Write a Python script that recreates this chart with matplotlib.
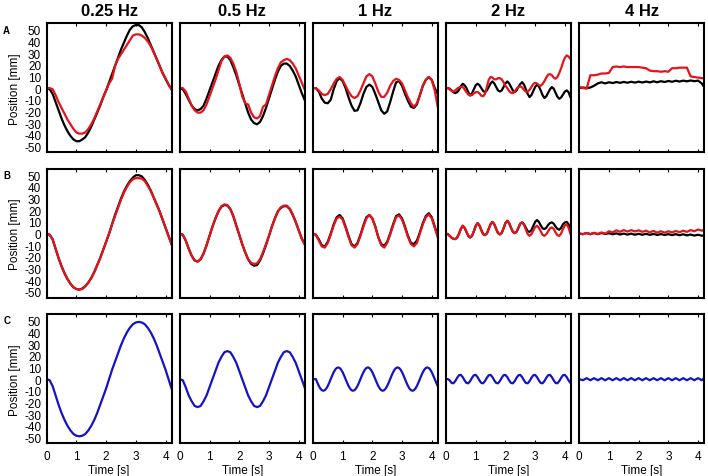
import numpy as np
import matplotlib
matplotlib.use('Agg')
import matplotlib.pyplot as plt

plt.rcParams['font.family'] = ['Liberation Sans', 'DejaVu Sans']
plt.rcParams['axes.unicode_minus'] = False

freqs = ['0.25 Hz', '0.5 Hz', '1 Hz', '2 Hz', '4 Hz']
row_letters = ['A', 'B', 'C']

# time grids [s]
t_slow = np.round(np.arange(0, 4.21, 0.1), 3)          # 0.25, 0.5, 1 Hz
t_fine = np.round(np.arange(0, 4.201, 0.05), 3)        # blue 1 Hz
t_2hz = np.arange(68) / 16.0                           # 2 Hz
t_4hz = np.append(np.arange(34) * 0.125, 4.2)          # 4 Hz

# ---- row A ----
a1_black = [0, -1, -5, -12, -19, -26, -32, -37, -41, -44, -45.5,
            -45.5, -44, -42, -38, -33, -27, -21, -15, -8, -2,
            5, 12, 19, 26, 33, 39, 45, 50, 53, 54,
            54, 52, 48, 43, 37, 31, 25, 19, 13, 8,
            3, -1]
a1_red = [0, 0, -1, -6, -12, -17, -22, -27, -31, -35, -38,
          -39, -39, -38, -35, -31, -26, -20, -14, -8, -2,
          4, 8, 19, 25, 29, 33, 37, 41, 45, 46,
          46, 45, 43, 40, 36, 31, 25, 19, 13, 8,
          3, -1]
a2_black = [0, -1, -5, -10, -15, -18, -19, -18, -15, -9, -2,
            5, 12, 19, 24, 27, 27, 24, 18, 11, 3,
            -5, -13, -21, -27, -30, -31, -29, -24, -17, -9,
            -1, 7, 14, 19, 21, 21, 19, 15, 10, 3,
            -4, -10]
a2_red = [0, 0, -3, -9, -15, -19, -21, -21, -19, -14, -7,
          0, 7, 15, 23, 27, 28, 26, 21, 14, 4,
          -7, -13, -14, -21, -25, -26, -24, -16, -14, -6,
          2, 10, 17, 22, 24, 25, 24, 21, 17, 11,
          5, -1]
a3_black = [0, 0, -3, -9, -12.5, -13, -10, -1, 6, 8.5, 6,
            0, -8, -15, -19.5, -19, -13, -5, 1, 3, 1,
            -5, -12, -19, -22, -20, -12, -3, 5, 6, 2,
            -5, -11, -16, -17, -14, -6, 2, 7, 9.5, 7,
            0, -5]
a3_red = [0, 0, -2, -5, -6, -5, -1, 4, 8, 9.5, 7,
          2, -3, -7, -8.5, -7, -2, 4, 10, 12, 10,
          4, -3, -7.5, -7.5, -4, 2, 6, 8, 7, 4,
          -2, -8, -13, -16, -13, -6, 2, 7, 9.5, 7,
          -2, -16]
a4_black = [0, 0, -0.5, -2, -3.5, -4.3, -3.5, -1.5, 1.5, 3.7, 2.5, 0,
            -3.5, -6.3, -4.5, -1, 2.5, 3.7, 2.5, 0, -2.5, -3.4, -2, 1,
            4, 5.7, 4, 1, -2, -2.9, -2, 1, 4, 5.7, 4, 1,
            -2, -3.4, -2, 1, 3.5, 5.1, 3, -1, -5, -7.7, -6, -2.5,
            1, 2.9, 1.5, -2, -6, -8.6, -7, -4, -1, 0.9, -0.5, -4,
            -7.5, -9.1, -8, -5.5, -3, -2, -3.5, -7.7]
a4_red = [0, 0, -1, -2.5, -3, -2, -0.5, 0.5, 1, 1, -1, -3.5,
          -5.5, -6.3, -6, -4.5, -3.5, -3.4, -4.5, -6.5, -7, -5, 1, 7,
          9.5, 9, 7.5, 7.5, 8.5, 8.5, 7.5, 5, 2, 0, -2.5, -4,
          -4.3, -3, -0.5, 1, 1.5, 0.5, -1.5, -3, -3, -1.5, 1, 3.5,
          4.5, 4, 2.5, 2, 3.5, 6, 9, 11.5, 12, 11, 9, 8,
          9.5, 13, 17, 22, 26, 28, 27, 25]
a5_black = [0, 0.5, 0, 0.5, 2, 4, 5, 4, 5, 4.3, 5.2, 4.5,
            5.3, 4.6, 5.4, 4.7, 5.5, 4.8, 5.6, 4.9, 5.8, 5.0, 5.9, 5.2,
            6.1, 5.4, 6.3, 5.6, 6.4, 5.8, 6.5, 5.9, 6.4, 4, 1]
a5_red = [1, 0, -0.5, 11, 11, 11.5, 12.5, 12.5, 13, 18, 18.5, 18,
          18.5, 18, 18, 18, 18, 17.5, 17, 15, 14.5, 14.5, 14, 14.5,
          14, 17, 17, 17.5, 17.5, 17.5, 10, 9.5, 9, 8.5, 8.5]

# ---- row B ----
b1_black = [0, -1, -5, -13, -21, -28, -34, -39, -43, -46, -47.5,
            -48, -47, -45, -42, -38, -33, -27, -21, -14, -7,
            0, 8, 16, 23, 30, 36, 41, 45, 48, 50,
            50, 49, 46, 42, 37, 31, 25, 19, 12, 5,
            -2, -9]
b1_red = [0, -1, -5, -13, -21, -28, -34, -39, -43, -46, -47.5,
          -48, -47.5, -45, -42, -38, -33, -27, -21, -14, -7,
          0, 8, 15, 22, 29, 35, 40, 44, 46.5, 47.5,
          47.5, 47, 45, 41, 36.5, 31, 25, 19, 12, 5,
          -2, -9]
b2_black = [0, -1, -6, -13, -19, -23, -24, -22, -17, -10, -2,
            6, 13, 19, 23, 24.5, 24, 21, 15, 7, -1,
            -9, -16, -22, -26, -27.5, -27, -23, -17, -10, -2,
            6, 13, 19, 22, 23.5, 23.5, 21, 16, 10, 3,
            -4, -9]
b2_red = [0, -1, -6, -13, -19, -23, -24, -22, -17, -10, -2,
          6, 13, 19, 23.5, 25, 24.5, 21, 15, 7, -1,
          -9, -16, -22, -25, -26, -25.5, -22, -16, -9, -2,
          6, 13, 19, 22.5, 24, 24, 21.5, 16.5, 10, 3,
          -4, -9]
b3_black = [0, -1, -5, -10, -11, -7, 0, 8, 14, 16, 13,
            6, -2, -9, -11, -8, -1, 7, 14, 16, 13,
            6, -3, -9, -10.5, -7, 0, 8, 15, 16.5, 13,
            6, -2, -8, -9, -6, 1, 9, 15, 17.5, 14,
            6, -2]
b3_red = [0, -1, -6, -11, -12, -8, -1, 7, 13, 14.5, 12,
          5, -3, -10, -12, -9, -2, 6, 13, 16, 13,
          6, -3, -10, -12, -8, -1, 7, 14, 15.5, 12,
          5, -3, -9, -11, -8, 0, 8, 14, 16.5, 13,
          5, -3]
b4_black = [0, -0.5, -2, -3.5, -4.5, -4.7, -3.5, 0, 4, 6.7, 5, 1.5,
            -2, -3.3, -2, 2, 6.5, 9, 7, 3, -0.5, -1.3, 0, 4,
            8, 10, 8, 4, 0.5, -0.7, 0.5, 4.5, 9, 11, 9, 5,
            1.5, 0.4, 1.5, 5, 8.5, 9.6, 8, 5, 2, 1.5, 3, 6.5,
            10, 11.6, 10, 7, 4.5, 3.9, 5, 7.5, 9, 9.6, 8.5, 6,
            4, 3.3, 5, 8, 9.5, 10, 8, 4]
b4_red = [0, -0.5, -2, -3.5, -4.5, -4.7, -3.5, 0, 4, 6.7, 5, 1.5,
          -2, -3.3, -2, 2, 6.5, 9, 7, 3, -0.5, -1.3, 0, 4,
          8, 10, 8, 4, 0.5, -0.7, 0.5, 4.5, 9, 11, 9, 5,
          1.5, 0.4, 1.5, 5, 8.5, 9.6, 7.5, 3.5, -0.5, -1.9, -0.5, 2.5,
          5.5, 6.7, 5, 2, -1, -1.9, -0.5, 2, 4.5, 5.3, 4, 1,
          -1.5, -1.9, 0, 4, 7, 8, 5, 0]
b5_black = [0, -0.5, 0.5, -0.5, 0.5, -0.5, 0.5, -0.3, 0.3, -0.6, 0.2, -0.8,
            0, -0.9, 0, -1, -0.2, -1, -0.2, -1.1, -0.3, -1.2, -0.4, -1.2,
            -0.5, -1.3, -0.5, -1.4, -0.6, -1.5, -0.8, -1.7, -1, -1.8, -1.6]
b5_red = [0, -0.5, 0.5, -0.5, 0.7, -0.3, 1, 0, 2, 1, 2.8, 1.5,
          3, 1.7, 3, 1.8, 2.8, 1.5, 2.5, 1, 2.3, 0.8, 2, 0.8,
          2, 1, 2.2, 1.2, 2.5, 1.5, 3, 2, 3.5, 2.5, 3.2]

# ---- row C (reference signal) ----
c1_blue = [0, -1, -6, -14, -22, -29, -35, -40, -44, -47, -48.5,
           -49, -48.5, -47, -44, -40, -35, -29, -22, -15, -8,
           0, 8, 15, 22, 29, 35, 40, 44, 47, 48.5,
           49, 48.5, 47, 44, 40, 35, 29, 22, 15, 8,
           0, -8]
c2_blue = [0, -1, -7, -14, -19, -23, -24, -23, -19, -14, -7,
           0, 7, 14, 19, 23, 24, 23, 19, 14, 7,
           0, -7, -14, -19, -23, -24, -23, -19, -14, -7,
           0, 7, 14, 19, 23, 24, 23, 19, 14, 7,
           0, -7]
c3_blue = [0, 0,
           0, -3.1, -5.9, -8.1, -9.5, -10, -9.5, -8.1, -5.9, -3.1, 0, 3.1, 5.9, 8.1, 9.5, 10, 9.5, 8.1, 5.9, 3.1,
           0, -3.1, -5.9, -8.1, -9.5, -10, -9.5, -8.1, -5.9, -3.1, 0, 3.1, 5.9, 8.1, 9.5, 10, 9.5, 8.1, 5.9, 3.1,
           0, -3.1, -5.9, -8.1, -9.5, -10, -9.5, -8.1, -5.9, -3.1, 0, 3.1, 5.9, 8.1, 9.5, 10, 9.5, 8.1, 5.9, 3.1,
           0, -3.1, -5.9, -8.1, -9.5, -10, -9.5, -8.1, -5.9, -3.1, 0, 3.1, 5.9, 8.1, 9.5, 10, 9.5, 8.1, 5.9, 3.1,
           0, -3.1, -5.9]
c4_blue = [0, 0,
           -1.1, -3.3, -3.6, -1.7, 1.1, 3.3, 3.6, 1.7, -1.1, -3.3, -3.6, -1.7, 1.1, 3.3, 3.6, 1.7,
           -1.1, -3.3, -3.6, -1.7, 1.1, 3.3, 3.6, 1.7, -1.1, -3.3, -3.6, -1.7, 1.1, 3.3, 3.6, 1.7,
           -1.1, -3.3, -3.6, -1.7, 1.1, 3.3, 3.6, 1.7, -1.1, -3.3, -3.6, -1.7, 1.1, 3.3, 3.6, 1.7,
           -1.1, -3.3, -3.6, -1.7, 1.1, 3.3, 3.6, 1.7, -1.1, -3.3, -3.6, -1.7, 1.1, 3.3, 3.6, 1.7,
           -1.1, -3.3]
c5_blue = [0, -1, 0.8, -1, 0.8, -1, 0.8, -1, 0.8, -1, 0.8, -1,
           0.8, -1, 0.8, -1, 0.8, -1, 0.8, -1, 0.8, -1, 0.8, -1,
           0.8, -1, 0.8, -1, 0.8, -1, 0.8, -1, 0.8, -1, 0.8]

row_a = [(t_slow, a1_black, a1_red), (t_slow, a2_black, a2_red), (t_slow, a3_black, a3_red),
         (t_2hz, a4_black, a4_red), (t_4hz, a5_black, a5_red)]
row_b = [(t_slow, b1_black, b1_red), (t_slow, b2_black, b2_red), (t_slow, b3_black, b3_red),
         (t_2hz, b4_black, b4_red), (t_4hz, b5_black, b5_red)]
row_c = [(t_slow, c1_blue), (t_slow, c2_blue), (t_fine, c3_blue),
         (t_2hz, c4_blue), (t_4hz, c5_blue)]

BLACK = '#000000'
RED = '#e3141b'
BLUE = '#1414c4'

W, H = 708, 477
fig = plt.figure(figsize=(W / 100, H / 100), dpi=100)

col_left = [46.7, 179.8, 312.9, 446.0, 579.2]
col_w = 124.8
row_top = [24.3, 169.8, 315.3]
row_h = 129.0

for r in range(3):
    for c in range(5):
        x0 = col_left[c] / W
        y0 = 1 - (row_top[r] + row_h) / H
        ax = fig.add_axes([x0, y0, col_w / W, row_h / H])
        if r < 2:
            data = (row_a if r == 0 else row_b)[c]
            t = data[0]
            ax.plot(t, data[1], color=BLACK, lw=1.6, solid_joinstyle='round')
            ax.plot(t, data[2], color=RED, lw=1.6, solid_joinstyle='round')
        else:
            t, y = row_c[c]
            ax.plot(t, y, color=BLUE, lw=1.6, solid_joinstyle='round')

        ax.set_xlim(0, 4.2)
        ax.set_ylim(-55, 55.5)
        ax.set_xticks([0, 1, 2, 3, 4])
        ax.set_yticks(np.arange(-50, 51, 10))
        ax.tick_params(axis='x', direction='in', top=True, bottom=True,
                       length=2.5, width=0.8, labelsize=8.5, pad=5)
        ax.tick_params(axis='y', length=0, labelsize=8.5, pad=4)
        for s in ax.spines.values():
            s.set_linewidth(1.5)

        if r < 2:
            ax.set_xticklabels([])
        else:
            ax.set_xlabel('Time [s]', fontsize=8.5, labelpad=1)
        if c == 0:
            ax.set_ylabel('Position [mm]', fontsize=8.5, labelpad=2)
        else:
            ax.set_yticklabels([])
        if r == 0:
            ax.set_title(freqs[c], fontsize=12, fontweight='bold', pad=6)

letter_y = [30.5, 176.0, 321.5]
for letter, ly in zip(row_letters, letter_y):
    fig.text(6.7 / W, 1 - ly / H, letter, fontsize=7, fontweight='bold',
             ha='center', va='center')

plt.savefig('out.png', dpi=100)
